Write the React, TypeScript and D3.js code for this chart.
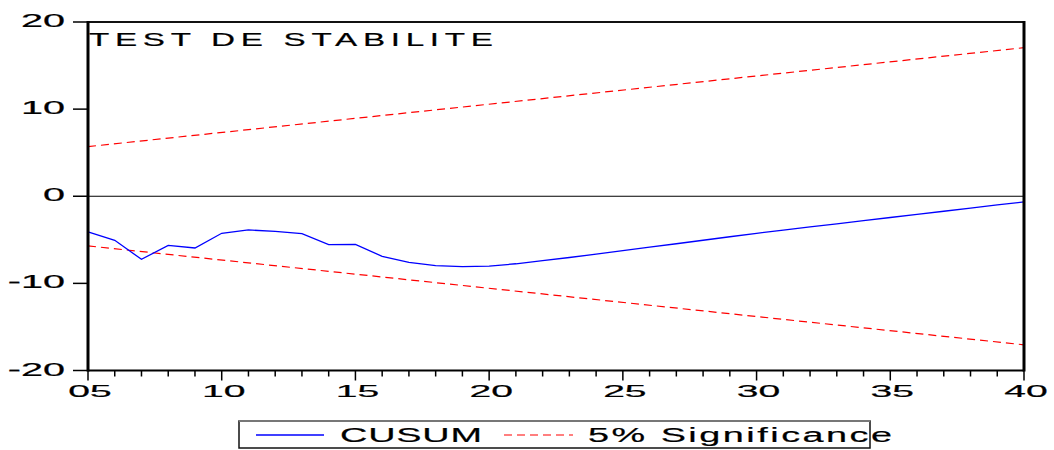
import React from 'react';
import * as d3 from 'd3';

// CUSUM test, observations 05..40
const periods = d3.range(5, 41);
const cusum = [
  -4.1, -5.06, -7.24, -5.63, -5.94, -4.25, -3.87, -4.02, -4.29, -5.56,
  -5.52, -6.9, -7.59, -7.97, -8.08, -8.02, -7.75, -7.4, -7.03, -6.65,
  -6.25, -5.85, -5.45, -5.05, -4.65, -4.25, -3.88, -3.52, -3.16, -2.8,
  -2.44, -2.08, -1.72, -1.36, -1.0, -0.65,
];
// 5% significance bounds: straight lines, start and end points
const boundPeriods = [5, 40];
const upperBound = [5.7, 17.05];
const lowerBound = [-5.7, -17.05];

const yTicks = [20, 10, 0, -10, -20];
const xLabelTicks = [5, 10, 15, 20, 25, 30, 35, 40];

const W = 1054;
const H = 450;
const FONT = '"Liberation Sans", Arial, sans-serif';

const App = () => {
  const x = d3.scaleLinear().domain([5, 40]).range([88, 1024]);
  const y = d3.scaleLinear().domain([-20, 20]).range([370.5, 22]);

  const cusumLine = d3.line<number>()
    .x((_, i) => x(periods[i]))
    .y(d => y(d));
  const boundLine = d3.line<number>()
    .x((_, i) => x(boundPeriods[i]))
    .y(d => y(d));

  const fmt = d3.format('02d');

  return (
    <svg width={W} height={H} style={{position: 'absolute', left: 0, top: 0, background: '#fff'}}
      fontFamily={FONT}>
      <rect width={W} height={H} fill="#fff"/>

      {/* zero line */}
      <line x1={x(5)} x2={x(40)} y1={y(0)} y2={y(0)} stroke="#000" strokeWidth={1.2}/>

      {/* bounds */}
      <path d={boundLine(upperBound) || ''} fill="none" stroke="#ff0000" strokeWidth={1.2} strokeDasharray="8,5"/>
      <path d={boundLine(lowerBound) || ''} fill="none" stroke="#ff0000" strokeWidth={1.2} strokeDasharray="8,5"/>

      {/* cusum */}
      <path d={cusumLine(cusum) || ''} fill="none" stroke="#0000ff" strokeWidth={1.3}/>

      {/* frame */}
      <line x1={x(5)} x2={x(40)} y1={y(20)} y2={y(20)} stroke="#111" strokeWidth={2}/>
      <line x1={x(5)} x2={x(40)} y1={y(-20)} y2={y(-20)} stroke="#000" strokeWidth={2}/>
      <line x1={x(5)} x2={x(5)} y1={y(20) - 1} y2={y(-20) + 1} stroke="#000" strokeWidth={3}/>
      <line x1={x(40)} x2={x(40)} y1={y(20) - 1} y2={y(-20) + 1} stroke="#000" strokeWidth={3}/>

      {/* y axis */}
      {yTicks.map(t => (
        <g key={t}>
          <line x1={73} x2={x(5)} y1={y(t)} y2={y(t)} stroke="#000" strokeWidth={1.5}/>
          <text transform={`translate(65,${y(t) + 5}) scale(2.2,1)`} textAnchor="end"
            fontSize={18} fill="#000" stroke="#000" strokeWidth={0.2}>{t}</text>
        </g>
      ))}

      {/* x axis */}
      {periods.map(p => (
        <line key={p} x1={x(p)} x2={x(p)} y1={y(-20)} y2={y(-20) + (p % 5 === 0 ? 10 : 6)}
          stroke="#000" strokeWidth={1.5}/>
      ))}
      {xLabelTicks.map(p => (
        <text key={p} transform={`translate(${x(p) + 2},397) scale(2.3,1)`} textAnchor="middle"
          fontSize={17} fill="#000" stroke="#000" strokeWidth={0.2}>{fmt(p)}</text>
      ))}

      {/* title */}
      <text transform="translate(89,46) scale(1.75,1)" fontSize={19} fill="#000" stroke="#000" strokeWidth={0.2}
        textLength={404 / 1.75} lengthAdjust="spacing">TEST DE STABILITE</text>

      {/* legend */}
      <rect x={239} y={421} width={631} height={27} fill="none" stroke="#111" strokeWidth={1.5}/>
      <line x1={239} x2={870} y1={421} y2={421} stroke="#777" strokeWidth={2}/>
      <line x1={256} x2={324} y1={435} y2={435} stroke="#0000ff" strokeWidth={1.3}/>
      <text transform="translate(340,442) scale(1.8,1)" fontSize={21} fill="#000" stroke="#000" strokeWidth={0.2}
        textLength={142 / 1.8} lengthAdjust="spacing">CUSUM</text>
      <line x1={504} x2={573} y1={435} y2={435} stroke="#ff0000" strokeWidth={1.2} strokeDasharray="8,5"/>
      <text transform="translate(588,442) scale(1.8,1)" fontSize={21} fill="#000" stroke="#000" strokeWidth={0.2}
        textLength={304 / 1.8} lengthAdjust="spacing">5% Significance</text>
    </svg>
  );
};

export default App;
